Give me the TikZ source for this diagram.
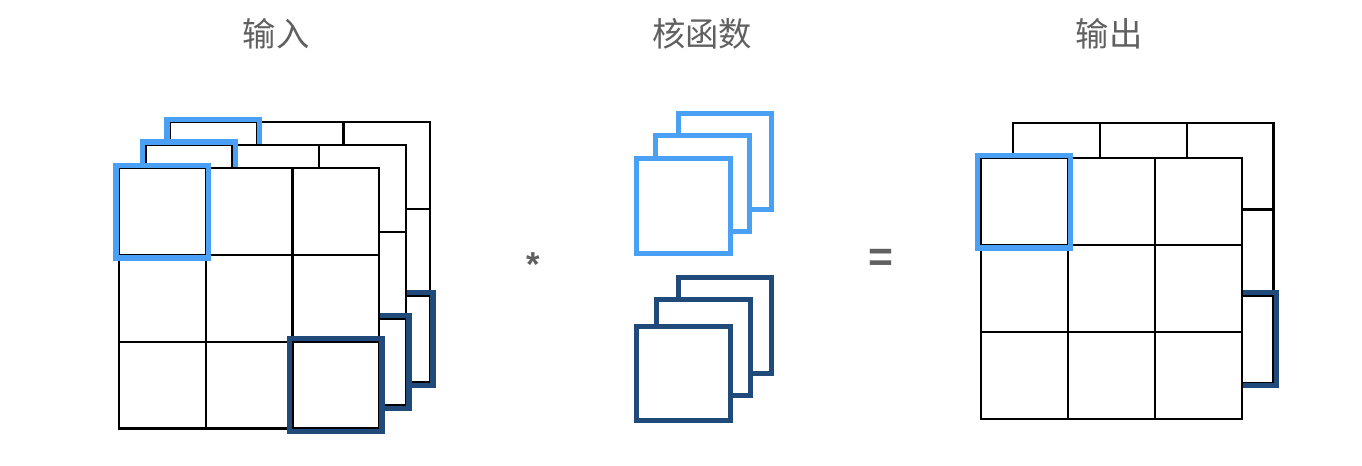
\documentclass[tikz,border=0pt]{standalone}
\usepackage{fontspec}
\newfontfamily\cjk{Noto Sans CJK SC}
\setsansfont{Liberation Sans}
\definecolor{lblue}{HTML}{4AA0F5}
\definecolor{dblue}{HTML}{1F4A7A}
\definecolor{tgray}{HTML}{606060}
\tikzset{
  gridline/.style={draw=black,line width=1.7pt},
  hiA/.style={draw=lblue,line width=4.1pt},
  hiB/.style={draw=dblue,line width=4.1pt},
  kerA/.style={draw=lblue,fill=white,line width=3.8pt},
  kerB/.style={draw=dblue,fill=white,line width=3.8pt},
  title/.style={font=\cjk\fontsize{25}{29}\selectfont,text=tgray,inner sep=0pt},
  op/.style={font=\sffamily\bfseries\fontsize{26}{30}\selectfont,text=tgray,inner sep=0pt},
  opeq/.style={font=\sffamily\bfseries\fontsize{32}{36}\selectfont,text=tgray,inner sep=0pt}
}
% #1 x, #2 y, #3 cell size
\newcommand\gridlayer[3]{%
  \fill[white] (#1,#2) rectangle ++(3*#3,3*#3);
  \draw[gridline] (#1,#2) rectangle ++(3*#3,3*#3);
  \draw[gridline] (#1+#3,#2) -- ++(0,3*#3);
  \draw[gridline] (#1+2*#3,#2) -- ++(0,3*#3);
  \draw[gridline] (#1,#2+#3) -- ++(3*#3,0);
  \draw[gridline] (#1,#2+2*#3) -- ++(3*#3,0);
}
% #1 style, #2 x, #3 y (cell top-left), #4 cell size
\newcommand\hicell[4]{%
  \draw[#1] (#2-3,#3-3) rectangle ++(#4+6,#4+6);
}
\begin{document}
\begin{tikzpicture}[x=0.75pt,y=-0.75pt]
\useasboundingbox (0,0) rectangle (1362,466);
% titles
\node[title] (tin) at (276,34) {输入};
\node[title] (tker) at (702,34) {核函数};
\node[title] (tout) at (1109,34) {输出};
% input stack
\gridlayer{170}{122.3}{86.7}
\hicell{hiA}{170}{122.3}{86.7}
\hicell{hiB}{343.4}{295.7}{86.7}
\gridlayer{145.7}{145}{86.8}
\hicell{hiA}{145.7}{145}{86.8}
\hicell{hiB}{319.3}{318.6}{86.8}
\gridlayer{119}{168.3}{86.7}
\hicell{hiA}{119}{168.3}{86.7}
\hicell{hiB}{292.4}{341.7}{86.7}
% operator
\node[op] (star) at (533,265) {*};
% kernels light
\draw[kerA] (678.5,113.5) rectangle (771.5,209.2);
\draw[kerA] (655.5,135.5) rectangle (749.5,231.2);
\draw[kerA] (636.5,158.5) rectangle (730.2,253.2);
% kernels dark
\draw[kerB] (678.5,277.5) rectangle (771.5,373.5);
\draw[kerB] (656.5,299.8) rectangle (750.5,395.2);
\draw[kerB] (636.5,326.5) rectangle (730.5,420.8);
% equals
\node[opeq] (eq) at (881,260) {=};
% output stack
\gridlayer{1013.3}{122.7}{86.7}
\hicell{hiB}{1186.7}{295.7}{86.7}
\gridlayer{980.7}{158.3}{87}
\hicell{hiA}{980.7}{158.3}{86.7}
\end{tikzpicture}
\end{document}
